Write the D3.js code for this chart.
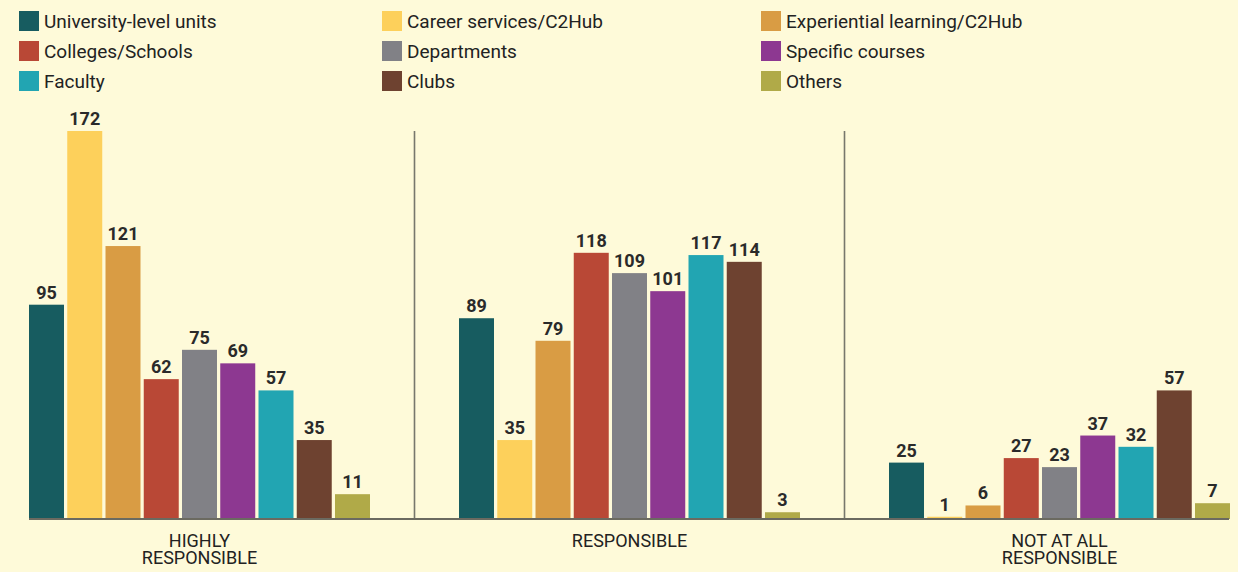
<!DOCTYPE html>
<html>
<head>
<meta charset="utf-8">
<script src="https://cdn.jsdelivr.net/npm/d3@7"></script>
<style>
  html, body { margin: 0; padding: 0; background: #fefad9; }
  svg { display: block; }
  text { font-family: Roboto, "DejaVu Sans", sans-serif; fill: #222; }
</style>
</head>
<body>
<svg id="chart" width="1238" height="572"></svg>
<script>
// ---- data ----
const groups = ["HIGHLY RESPONSIBLE", "RESPONSIBLE", "NOT AT ALL RESPONSIBLE"];
const groupLines = [["HIGHLY", "RESPONSIBLE"], ["RESPONSIBLE"], ["NOT AT ALL", "RESPONSIBLE"]];
const seriesNames = [
  "University-level units", "Career services/C2Hub", "Experiential learning/C2Hub",
  "Colleges/Schools", "Departments", "Specific courses",
  "Faculty", "Clubs", "Others"
];
const seriesColors = [
  "#175c60", "#fdd05b", "#d99c44",
  "#b94836", "#818186", "#8d3891",
  "#22a5b2", "#6e4230", "#b0aa48"
];
const highlyValues = [95, 172, 121, 62, 75, 69, 57, 35, 11];
const responsibleValues = [89, 35, 79, 118, 109, 101, 117, 114, 3];
const notAtAllValues = [25, 1, 6, 27, 23, 37, 32, 57, 7];
const groupValues = [highlyValues, responsibleValues, notAtAllValues];

// ---- layout ----
const svg = d3.select("#chart");
const baseY = 519;

const x0 = d3.scaleBand().domain(groups).range([29, 1230]).paddingInner(0.207).paddingOuter(0);
const x1 = d3.scaleBand().domain(seriesNames).range([0, x0.bandwidth()]).paddingInner(0.085).paddingOuter(0);
const y = d3.scaleLinear().domain([0, 172]).range([baseY, 131]);

// dividers
const divs = groups.slice(1).map((g, i) => (x0(groups[i]) + x0.bandwidth() + x0(g)) / 2);
svg.selectAll("line.div").data(divs).enter().append("line")
  .attr("class", "div")
  .attr("x1", d => d).attr("x2", d => d)
  .attr("y1", y(172)).attr("y2", baseY)
  .attr("stroke", "#77776c").attr("stroke-width", 1.6);

// bars
const gSel = svg.selectAll("g.grp").data(groups).enter().append("g")
  .attr("class", "grp")
  .attr("transform", d => `translate(${x0(d)},0)`);

gSel.each(function(g, gi) {
  const sel = d3.select(this);
  const data = groupValues[gi].map((v, i) => ({ name: seriesNames[i], v, c: seriesColors[i] }));
  sel.selectAll("rect").data(data).enter().append("rect")
    .attr("x", d => x1(d.name))
    .attr("y", d => y(d.v))
    .attr("width", x1.bandwidth())
    .attr("height", d => baseY - y(d.v))
    .attr("fill", d => d.c);
  sel.selectAll("text.val").data(data).enter().append("text")
    .attr("class", "val")
    .attr("x", d => x1(d.name) + x1.bandwidth() / 2)
    .attr("y", d => y(d.v) - 6)
    .attr("text-anchor", "middle")
    .style("font-size", "18px")
    .style("font-weight", "bold")
    .style("fill", "#2a2a2a")
    .text(d => d.v);
  const lab = sel.append("text")
    .attr("x", x0.bandwidth() / 2)
    .attr("y", 547)
    .attr("text-anchor", "middle")
    .style("font-size", "18px");
  groupLines[gi].forEach((ln, li) => {
    lab.append("tspan").attr("x", x0.bandwidth() / 2).attr("dy", li === 0 ? 0 : 17).text(ln);
  });
});

// baseline
svg.append("line")
  .attr("x1", x0.range()[0]).attr("x2", x0.range()[1] - 1)
  .attr("y1", baseY).attr("y2", baseY)
  .attr("stroke", "#6b6a60").attr("stroke-width", 2);

// legend
const legCols = [19, 382, 761];
const legRows = [11, 41, 71];
const leg = svg.selectAll("g.leg").data(seriesNames).enter().append("g")
  .attr("class", "leg")
  .attr("transform", (d, i) => `translate(${legCols[i % 3]},${legRows[Math.floor(i / 3)]})`);
leg.append("rect").attr("width", 20).attr("height", 20).attr("fill", (d, i) => seriesColors[i]);
leg.append("text").attr("x", 25).attr("y", 17).style("font-size", "19px").text(d => d);
</script>
</body>
</html>
